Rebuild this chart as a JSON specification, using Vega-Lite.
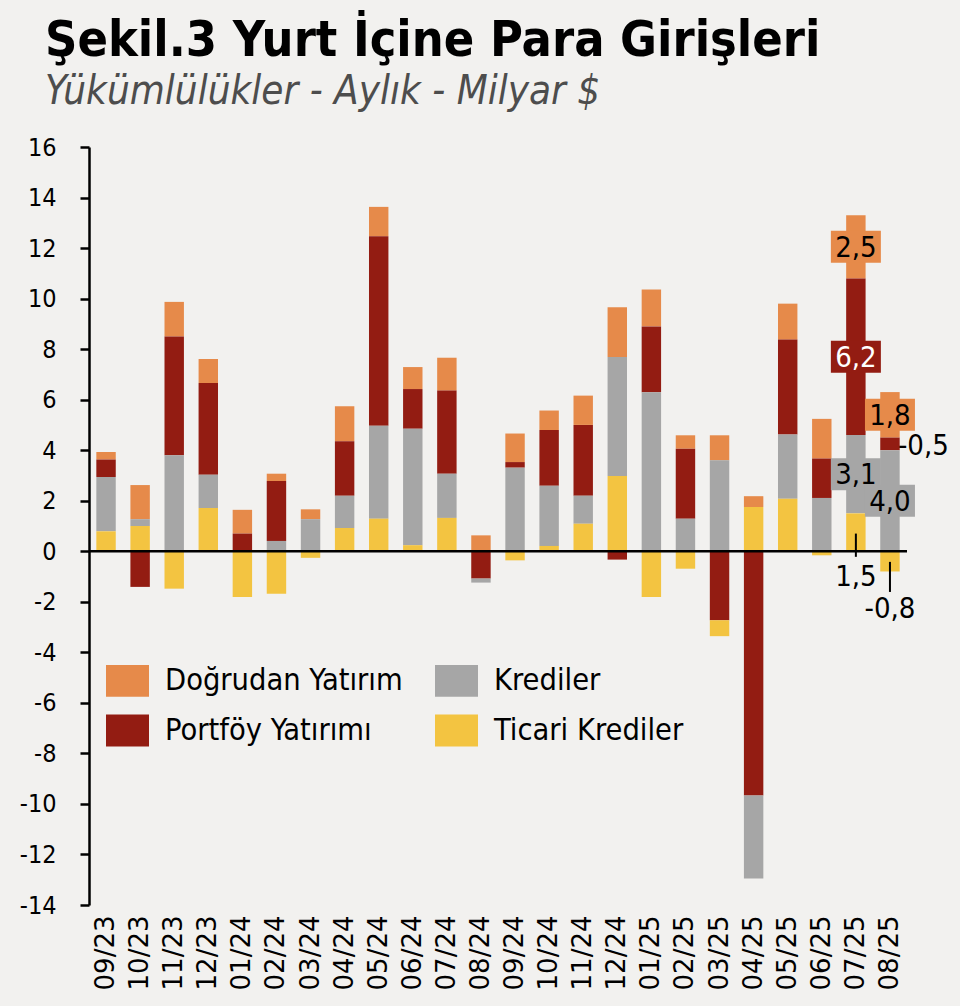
{
  "$schema": "https://vega.github.io/schema/vega-lite/v6.json",
  "width": 818,
  "height": 758,
  "autosize": {"type": "none"},
  "padding": {"left": 89, "top": 147, "right": 53, "bottom": 101},
  "background": "#F2F1EF",
  "title": {
    "text": "Şekil.3 Yurt İçine Para Girişleri",
    "subtitle": "Yükümlülükler - Aylık - Milyar $",
    "anchor": "start",
    "frame": "group",
    "dx": -44,
    "offset": 23,
    "font": "DejaVu Sans Condensed",
    "fontSize": 50,
    "fontWeight": "bold",
    "color": "#000000",
    "subtitleFont": "DejaVu Sans Condensed",
    "subtitleFontStyle": "italic",
    "subtitleFontSize": 40,
    "subtitleColor": "#4D4D4D",
    "subtitlePadding": 6
  },
  "datasets": {
    "seriler": [
      {"seri": "Ticari Krediler", "sira": 1},
      {"seri": "Krediler", "sira": 2},
      {"seri": "Portföy Yatırımı", "sira": 3},
      {"seri": "Doğrudan Yatırım", "sira": 4}
    ],
    "akim": [
      {"ay": "09/23", "seri": "Doğrudan Yatırım", "deger": 0.30},
      {"ay": "09/23", "seri": "Portföy Yatırımı", "deger": 0.69},
      {"ay": "09/23", "seri": "Krediler", "deger": 2.15},
      {"ay": "09/23", "seri": "Ticari Krediler", "deger": 0.79},
      {"ay": "10/23", "seri": "Doğrudan Yatırım", "deger": 1.35},
      {"ay": "10/23", "seri": "Portföy Yatırımı", "deger": -1.41},
      {"ay": "10/23", "seri": "Krediler", "deger": 0.27},
      {"ay": "10/23", "seri": "Ticari Krediler", "deger": 1.00},
      {"ay": "11/23", "seri": "Doğrudan Yatırım", "deger": 1.37},
      {"ay": "11/23", "seri": "Portföy Yatırımı", "deger": 4.70},
      {"ay": "11/23", "seri": "Krediler", "deger": 3.80},
      {"ay": "11/23", "seri": "Ticari Krediler", "deger": -1.48},
      {"ay": "12/23", "seri": "Doğrudan Yatırım", "deger": 0.95},
      {"ay": "12/23", "seri": "Portföy Yatırımı", "deger": 3.63},
      {"ay": "12/23", "seri": "Krediler", "deger": 1.32},
      {"ay": "12/23", "seri": "Ticari Krediler", "deger": 1.71},
      {"ay": "01/24", "seri": "Doğrudan Yatırım", "deger": 0.94},
      {"ay": "01/24", "seri": "Portföy Yatırımı", "deger": 0.70},
      {"ay": "01/24", "seri": "Krediler", "deger": 0.00},
      {"ay": "01/24", "seri": "Ticari Krediler", "deger": -1.81},
      {"ay": "02/24", "seri": "Doğrudan Yatırım", "deger": 0.29},
      {"ay": "02/24", "seri": "Portföy Yatırımı", "deger": 2.37},
      {"ay": "02/24", "seri": "Krediler", "deger": 0.41},
      {"ay": "02/24", "seri": "Ticari Krediler", "deger": -1.68},
      {"ay": "03/24", "seri": "Doğrudan Yatırım", "deger": 0.39},
      {"ay": "03/24", "seri": "Portföy Yatırımı", "deger": 0.00},
      {"ay": "03/24", "seri": "Krediler", "deger": 1.27},
      {"ay": "03/24", "seri": "Ticari Krediler", "deger": -0.26},
      {"ay": "04/24", "seri": "Doğrudan Yatırım", "deger": 1.39},
      {"ay": "04/24", "seri": "Portföy Yatırımı", "deger": 2.15},
      {"ay": "04/24", "seri": "Krediler", "deger": 1.28},
      {"ay": "04/24", "seri": "Ticari Krediler", "deger": 0.92},
      {"ay": "05/24", "seri": "Doğrudan Yatırım", "deger": 1.16},
      {"ay": "05/24", "seri": "Portföy Yatırımı", "deger": 7.50},
      {"ay": "05/24", "seri": "Krediler", "deger": 3.68},
      {"ay": "05/24", "seri": "Ticari Krediler", "deger": 1.29},
      {"ay": "06/24", "seri": "Doğrudan Yatırım", "deger": 0.87},
      {"ay": "06/24", "seri": "Portföy Yatırımı", "deger": 1.57},
      {"ay": "06/24", "seri": "Krediler", "deger": 4.61},
      {"ay": "06/24", "seri": "Ticari Krediler", "deger": 0.24},
      {"ay": "07/24", "seri": "Doğrudan Yatırım", "deger": 1.30},
      {"ay": "07/24", "seri": "Portföy Yatırımı", "deger": 3.29},
      {"ay": "07/24", "seri": "Krediler", "deger": 1.75},
      {"ay": "07/24", "seri": "Ticari Krediler", "deger": 1.32},
      {"ay": "08/24", "seri": "Doğrudan Yatırım", "deger": 0.63},
      {"ay": "08/24", "seri": "Portföy Yatırımı", "deger": -1.08},
      {"ay": "08/24", "seri": "Krediler", "deger": -0.16},
      {"ay": "08/24", "seri": "Ticari Krediler", "deger": 0.00},
      {"ay": "09/24", "seri": "Doğrudan Yatırım", "deger": 1.13},
      {"ay": "09/24", "seri": "Portföy Yatırımı", "deger": 0.22},
      {"ay": "09/24", "seri": "Krediler", "deger": 3.31},
      {"ay": "09/24", "seri": "Ticari Krediler", "deger": -0.36},
      {"ay": "10/24", "seri": "Doğrudan Yatırım", "deger": 0.77},
      {"ay": "10/24", "seri": "Portföy Yatırımı", "deger": 2.21},
      {"ay": "10/24", "seri": "Krediler", "deger": 2.38},
      {"ay": "10/24", "seri": "Ticari Krediler", "deger": 0.21},
      {"ay": "11/24", "seri": "Doğrudan Yatırım", "deger": 1.16},
      {"ay": "11/24", "seri": "Portföy Yatırımı", "deger": 2.80},
      {"ay": "11/24", "seri": "Krediler", "deger": 1.11},
      {"ay": "11/24", "seri": "Ticari Krediler", "deger": 1.09},
      {"ay": "12/24", "seri": "Doğrudan Yatırım", "deger": 1.97},
      {"ay": "12/24", "seri": "Portföy Yatırımı", "deger": -0.33},
      {"ay": "12/24", "seri": "Krediler", "deger": 4.71},
      {"ay": "12/24", "seri": "Ticari Krediler", "deger": 2.98},
      {"ay": "01/25", "seri": "Doğrudan Yatırım", "deger": 1.46},
      {"ay": "01/25", "seri": "Portföy Yatırımı", "deger": 2.61},
      {"ay": "01/25", "seri": "Krediler", "deger": 6.29},
      {"ay": "01/25", "seri": "Ticari Krediler", "deger": -1.81},
      {"ay": "02/25", "seri": "Doğrudan Yatırım", "deger": 0.53},
      {"ay": "02/25", "seri": "Portföy Yatırımı", "deger": 2.77},
      {"ay": "02/25", "seri": "Krediler", "deger": 1.29},
      {"ay": "02/25", "seri": "Ticari Krediler", "deger": -0.69},
      {"ay": "03/25", "seri": "Doğrudan Yatırım", "deger": 0.99},
      {"ay": "03/25", "seri": "Portföy Yatırımı", "deger": -2.73},
      {"ay": "03/25", "seri": "Krediler", "deger": 3.60},
      {"ay": "03/25", "seri": "Ticari Krediler", "deger": -0.63},
      {"ay": "04/25", "seri": "Doğrudan Yatırım", "deger": 0.43},
      {"ay": "04/25", "seri": "Portföy Yatırımı", "deger": -9.67},
      {"ay": "04/25", "seri": "Krediler", "deger": -3.28},
      {"ay": "04/25", "seri": "Ticari Krediler", "deger": 1.75},
      {"ay": "05/25", "seri": "Doğrudan Yatırım", "deger": 1.42},
      {"ay": "05/25", "seri": "Portföy Yatırımı", "deger": 3.76},
      {"ay": "05/25", "seri": "Krediler", "deger": 2.54},
      {"ay": "05/25", "seri": "Ticari Krediler", "deger": 2.08},
      {"ay": "06/25", "seri": "Doğrudan Yatırım", "deger": 1.57},
      {"ay": "06/25", "seri": "Portföy Yatırımı", "deger": 1.56},
      {"ay": "06/25", "seri": "Krediler", "deger": 2.11},
      {"ay": "06/25", "seri": "Ticari Krediler", "deger": -0.16},
      {"ay": "07/25", "seri": "Doğrudan Yatırım", "deger": 2.5, "etiket": "2,5"},
      {"ay": "07/25", "seri": "Portföy Yatırımı", "deger": 6.2, "etiket": "6,2"},
      {"ay": "07/25", "seri": "Krediler", "deger": 3.1, "etiket": "3,1"},
      {"ay": "07/25", "seri": "Ticari Krediler", "deger": 1.5, "etiket": "1,5"},
      {"ay": "08/25", "seri": "Doğrudan Yatırım", "deger": 1.8, "etiket": "1,8"},
      {"ay": "08/25", "seri": "Portföy Yatırımı", "deger": 0.5, "etiket": "-0,5"},
      {"ay": "08/25", "seri": "Krediler", "deger": 4.0, "etiket": "4,0"},
      {"ay": "08/25", "seri": "Ticari Krediler", "deger": -0.8, "etiket": "-0,8"}
    ]
  },
  "data": {"name": "akim"},
  "layer": [
    {
      "transform": [
        {"filter": "datum.deger >= 0"},
        {"lookup": "seri", "from": {"data": {"name": "seriler"}, "key": "seri", "fields": ["sira"]}}
      ],
      "mark": {"type": "bar"},
      "encoding": {
        "x": {
          "field": "ay", "type": "nominal", "title": null,
          "scale": {"domain": ["09/23","10/23","11/23","12/23","01/24","02/24","03/24","04/24","05/24","06/24","07/24","08/24","09/24","10/24","11/24","12/24","01/25","02/25","03/25","04/25","05/25","06/25","07/25","08/25"], "paddingInner": 0.43, "paddingOuter": 0.215},
          "axis": {"orient": "bottom", "domain": false, "ticks": false, "labelAngle": -90, "labelAlign": "right", "labelBaseline": "middle", "labelFont": "DejaVu Sans", "labelFontSize": 26, "labelColor": "#000000", "labelPadding": 10}
        },
        "y": {
          "field": "deger", "type": "quantitative", "stack": "zero", "title": null,
          "scale": {"domain": [-14, 16], "nice": false, "zero": false},
          "axis": {"values": [-14,-12,-10,-8,-6,-4,-2,0,2,4,6,8,10,12,14,16], "format": "d", "grid": false, "domain": true, "domainColor": "#000000", "domainWidth": 2.5, "ticks": true, "tickColor": "#000000", "tickWidth": 2.5, "tickSize": 9, "labelFont": "DejaVu Sans Condensed", "labelFontSize": 25, "labelColor": "#000000", "labelPadding": 24}
        },
        "color": {
          "field": "seri", "type": "nominal",
          "scale": {"domain": ["Doğrudan Yatırım", "Krediler", "Portföy Yatırımı", "Ticari Krediler"], "range": ["#E68A4A", "#A6A6A6", "#931C12", "#F3C441"]},
          "legend": {"orient": "none", "legendX": 17, "legendY": 512, "columns": 2, "direction": "horizontal", "title": null, "padding": 0, "symbolType": "M-1,-0.74H1V0.74H-1Z", "symbolSize": 1849, "symbolStrokeWidth": 0, "symbolOpacity": 1, "labelFont": "DejaVu Sans Condensed", "labelFontSize": 30.5, "labelColor": "#000000", "labelOffset": 16, "labelLimit": 400, "rowPadding": 12, "columnPadding": 32}
        },
        "order": {"field": "sira", "type": "quantitative", "sort": "ascending"}
      }
    },
    {
      "transform": [{"filter": "datum.deger < 0"}],
      "mark": {"type": "bar"},
      "encoding": {
        "x": {"field": "ay", "type": "nominal"},
        "y": {"field": "deger", "type": "quantitative", "stack": "zero"},
        "color": {"field": "seri", "type": "nominal", "legend": null},
        "order": {"field": "deger", "type": "quantitative", "sort": "ascending"}
      }
    },
    {
      "transform": [{"filter": "datum.ay === '09/23' && datum.seri === 'Krediler'"}],
      "mark": {"type": "rule", "color": "#000000", "strokeWidth": 2.5},
      "encoding": {"y": {"datum": 0, "type": "quantitative"}}
    },
    {
      "transform": [
        {"filter": "datum.deger >= 0 && (datum.ay === '07/25' || datum.ay === '08/25')"},
        {"lookup": "seri", "from": {"data": {"name": "seriler"}, "key": "seri", "fields": ["sira"]}}
      ],
      "mark": {"type": "point", "shape": "M-1,-0.64H1V0.64H-1Z", "size": 2500, "filled": true, "strokeWidth": 0},
      "encoding": {
        "x": {"field": "ay", "type": "nominal"},
        "y": {"field": "deger", "type": "quantitative", "stack": "zero", "bandPosition": 0.5},
        "color": {"field": "seri", "type": "nominal", "legend": null},
        "order": {"field": "sira", "type": "quantitative", "sort": "ascending"},
        "opacity": {"condition": {"test": "datum.seri !== 'Ticari Krediler' && !(datum.ay === '08/25' && datum.seri === 'Portföy Yatırımı')", "value": 1}, "value": 0}
      }
    },
    {
      "transform": [
        {"filter": "datum.deger >= 0 && (datum.ay === '07/25' || datum.ay === '08/25')"},
        {"lookup": "seri", "from": {"data": {"name": "seriler"}, "key": "seri", "fields": ["sira"]}}
      ],
      "mark": {"type": "text", "font": "DejaVu Sans Condensed", "fontSize": 29, "align": "center", "baseline": "middle", "dy": 1},
      "encoding": {
        "x": {"field": "ay", "type": "nominal"},
        "y": {"field": "deger", "type": "quantitative", "stack": "zero", "bandPosition": 0.5},
        "order": {"field": "sira", "type": "quantitative", "sort": "ascending"},
        "text": {"condition": {"test": "datum.seri !== 'Ticari Krediler' && !(datum.ay === '08/25' && datum.seri === 'Portföy Yatırımı')", "field": "etiket"}, "value": ""},
        "color": {"condition": {"test": "datum.seri === 'Portföy Yatırımı'", "value": "#FFFFFF"}, "value": "#000000"}
      }
    },
    {
      "transform": [
        {"filter": "datum.deger >= 0 && datum.ay === '08/25'"},
        {"lookup": "seri", "from": {"data": {"name": "seriler"}, "key": "seri", "fields": ["sira"]}}
      ],
      "mark": {"type": "text", "font": "DejaVu Sans Condensed", "fontSize": 29, "align": "left", "baseline": "middle", "dx": 8, "dy": 2, "color": "#000000"},
      "encoding": {
        "x": {"field": "ay", "type": "nominal"},
        "y": {"field": "deger", "type": "quantitative", "stack": "zero", "bandPosition": 0.5},
        "order": {"field": "sira", "type": "quantitative", "sort": "ascending"},
        "text": {"condition": {"test": "datum.seri === 'Portföy Yatırımı'", "field": "etiket"}, "value": ""}
      }
    },
    {
      "transform": [{"filter": "datum.ay === '07/25' && datum.seri === 'Ticari Krediler'"}],
      "mark": {"type": "rule", "color": "#000000", "strokeWidth": 2},
      "encoding": {
        "x": {"field": "ay", "type": "nominal"},
        "y": {"datum": 0.7, "type": "quantitative"},
        "y2": {"datum": -0.22}
      }
    },
    {
      "transform": [{"filter": "datum.ay === '07/25' && datum.seri === 'Ticari Krediler'"}],
      "mark": {"type": "text", "font": "DejaVu Sans Condensed", "fontSize": 29, "align": "center", "baseline": "middle", "color": "#000000"},
      "encoding": {
        "x": {"field": "ay", "type": "nominal"},
        "y": {"datum": -1.02, "type": "quantitative"},
        "text": {"field": "etiket"}
      }
    },
    {
      "transform": [{"filter": "datum.ay === '08/25' && datum.seri === 'Ticari Krediler'"}],
      "mark": {"type": "rule", "color": "#000000", "strokeWidth": 2},
      "encoding": {
        "x": {"field": "ay", "type": "nominal"},
        "y": {"datum": -0.42, "type": "quantitative"},
        "y2": {"datum": -1.61}
      }
    },
    {
      "transform": [{"filter": "datum.ay === '08/25' && datum.seri === 'Ticari Krediler'"}],
      "mark": {"type": "text", "font": "DejaVu Sans Condensed", "fontSize": 29, "align": "center", "baseline": "middle", "color": "#000000"},
      "encoding": {
        "x": {"field": "ay", "type": "nominal"},
        "y": {"datum": -2.28, "type": "quantitative"},
        "text": {"field": "etiket"}
      }
    }
  ],
  "config": {
    "view": {"stroke": null},
    "font": "DejaVu Sans Condensed",
    "locale": {"number": {"decimal": ",", "thousands": ".", "grouping": [3], "currency": ["", ""], "minus": "-"}}
  }
}
